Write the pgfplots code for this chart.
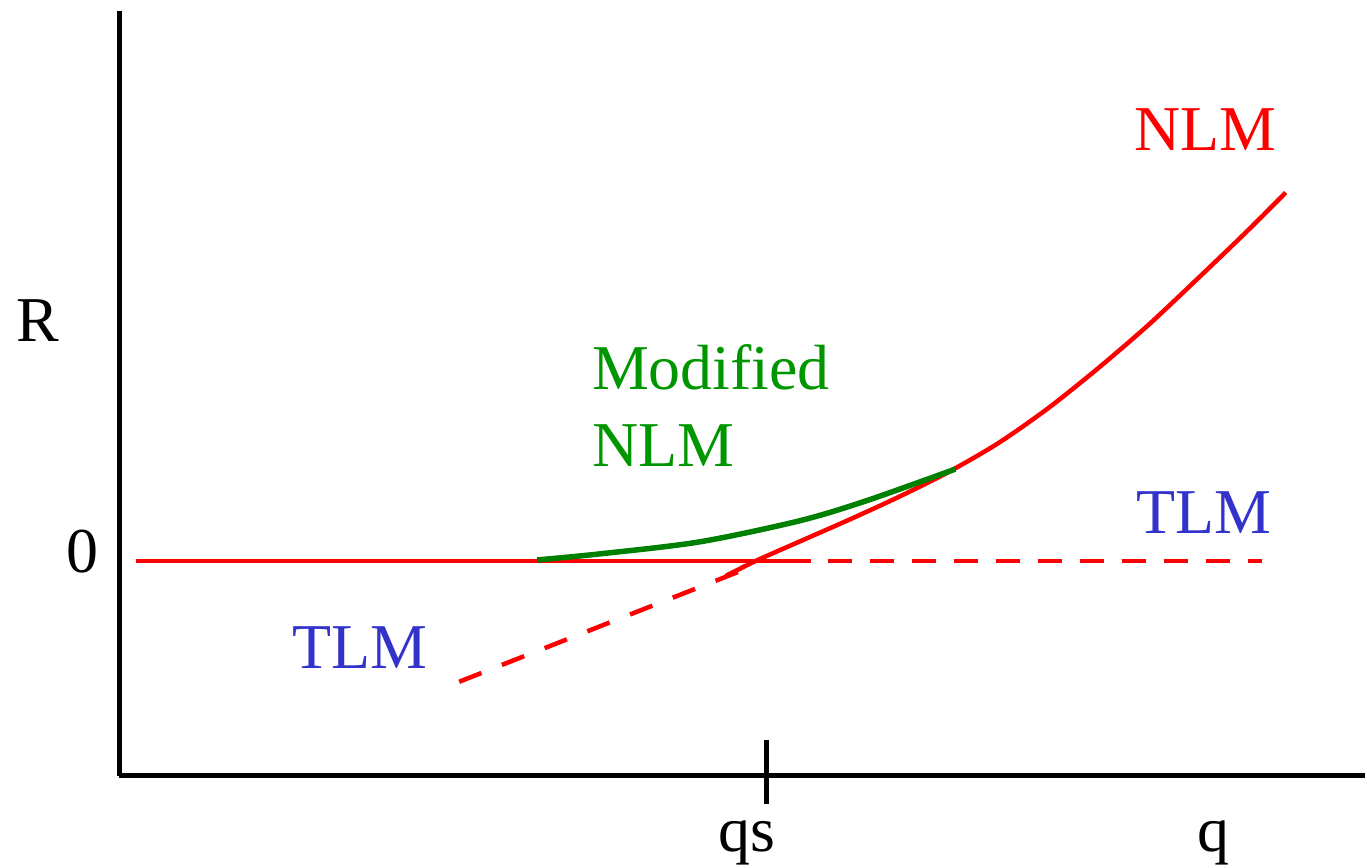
\documentclass[border=0pt]{standalone}
\usepackage{fontspec}
\setmainfont{Liberation Serif}
\usepackage{pgfplots}
\pgfplotsset{compat=1.18}
\definecolor{nlmred}{RGB}{255,0,0}
\definecolor{modgreen}{RGB}{0,128,0}
\definecolor{modtext}{RGB}{0,150,0}
\definecolor{tlmblue}{RGB}{51,51,204}
\begin{document}
\fontsize{64}{72}\selectfont
\begin{tikzpicture}
\begin{axis}[
  scale only axis, width=1247.5pt, height=766pt,
  xmin=119.5, xmax=1367, ymin=92, ymax=858,
  enlargelimits=false,
  axis lines=left, axis line style={-, line width=5pt, black},
  xtick=\empty, ytick=\empty,
  clip=false,
]
\path (axis cs:0,0) rectangle (axis cs:1367,869);
% zero line (solid part and dashed TLM continuation)
\addplot[nlmred, line width=4.8pt] coordinates {(136,307) (812,307)};
\addplot[nlmred, line width=4.8pt, dash pattern=on 24pt off 18pt, dash phase=24pt] coordinates {(812,307) (1264,307)};
% TLM dashed extension below zero
\addplot[nlmred, line width=4.5pt, dash pattern=on 24pt off 22pt] coordinates {(460,186) (742,297)};
% NLM
\addplot[nlmred, line width=4.5pt, smooth] coordinates {
(727,292) (757,307) (800,326) (850,348) (900,371) (950,396) (1000,425)
(1050,460) (1100,500) (1150,543) (1200,590) (1250,638) (1288,676)};
% Modified NLM
\addplot[modgreen, line width=5.5pt, smooth] coordinates {
(538,308) (600,314) (700,326) (800,347) (867,367) (957,399)};
% qs tick
\draw[line width=5pt] (axis cs:768,128) -- (axis cs:768,64);
% labels
\node[anchor=base, inner sep=0pt] at (axis cs:38,527) {R};
\node[anchor=base, inner sep=0pt] at (axis cs:83,295) {0};
\node[anchor=base, inner sep=0pt] at (axis cs:748,16) {qs};
\node[anchor=base, inner sep=0pt] at (axis cs:1216,16) {q};
\node[anchor=base west, inner sep=0pt, text=modtext] at (axis cs:593,479) {Modified};
\node[anchor=base west, inner sep=0pt, text=modtext] at (axis cs:593,402) {NLM};
\node[anchor=base west, inner sep=0pt, text=nlmred] at (axis cs:1136,718) {NLM};
\node[anchor=base west, inner sep=0pt, text=tlmblue] at (axis cs:1138,335) {TLM};
\node[anchor=base west, inner sep=0pt, text=tlmblue] at (axis cs:293,199) {TLM};
\end{axis}
\end{tikzpicture}
\end{document}
